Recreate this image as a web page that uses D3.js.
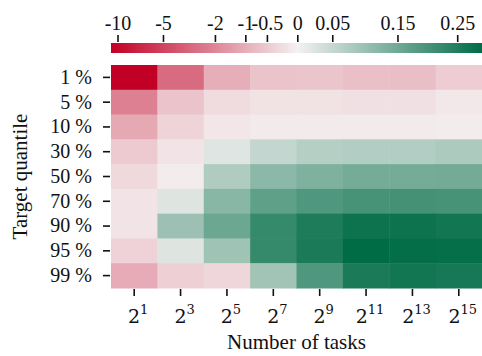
<!DOCTYPE html>
<html>
<head>
<meta charset="utf-8">
<script src="https://cdn.jsdelivr.net/npm/d3@7"></script>
<style>
  body { margin: 0; background: #fff; }
  .axis path { display: none; }
  .axis line { stroke: #111; stroke-width: 1.6; }
</style>
</head>
<body>
<div id="vis"></div>
<script>
var quantiles = ["1 %", "5 %", "10 %", "30 %", "50 %", "70 %", "90 %", "95 %", "99 %"];
var exponents = [1, 3, 5, 7, 9, 11, 13, 15];
var colorTicks = [-10, -5, -2, -1, -0.5, 0, 0.05, 0.15, 0.25];
var colorMin = -11, colorMax = 0.294;

// one row per quantile, one value per task count
var values = [
  [-11.0, -3.0, -1.0, -0.6, -0.58, -0.68, -0.70, -0.45],
  [-2.2, -0.6, -0.24, -0.17, -0.17, -0.19, -0.19, -0.10],
  [-1.1, -0.35, -0.12, -0.08, -0.08, -0.08, -0.08, -0.05],
  [-0.50, -0.15, 0.023, 0.053, 0.069, 0.072, 0.072, 0.078],
  [-0.28, -0.05, 0.075, 0.117, 0.131, 0.143, 0.143, 0.146],
  [-0.15, 0.024, 0.120, 0.170, 0.190, 0.200, 0.204, 0.200],
  [-0.15, 0.097, 0.155, 0.222, 0.254, 0.277, 0.277, 0.270],
  [-0.38, 0.024, 0.094, 0.222, 0.258, 0.294, 0.290, 0.287],
  [-1.05, -0.42, -0.32, 0.091, 0.190, 0.258, 0.270, 0.264]
];

var W = 482, H = 356;
var mLeft = 111, mRight = 482, mTop = 65, mBottom = 288;
var barTop = 43, barH = 10;
var serif = "'Liberation Serif', 'Times New Roman', 'DejaVu Serif', serif";

var svg = d3.select("#vis").append("svg")
  .attr("width", W)
  .attr("height", H);

var x = d3.scaleBand().domain(exponents).range([mLeft, mRight]).padding(0);
var y = d3.scaleBand().domain(quantiles).range([mTop, mBottom]).padding(0);

var cbScale = d3.scaleSymlog().constant(1)
  .domain([colorMin, 0, colorMax])
  .range([mLeft, 297.3, mRight]);

var color = d3.scaleSymlog().constant(1)
  .domain([colorMin, 0, colorMax])
  .range(["rgb(194,0,38)", "rgb(244,241,241)", "rgb(0,108,70)"])
  .interpolate(d3.interpolateRgb)
  .clamp(true);

// cells
var cells = [];
values.forEach(function(row, i) {
  row.forEach(function(v, j) {
    cells.push({q: quantiles[i], e: exponents[j], v: v});
  });
});

svg.append("g").selectAll("rect")
  .data(cells).enter()
  .append("rect")
  .attr("x", function(d) { return x(d.e); })
  .attr("y", function(d) { return y(d.q); })
  .attr("width", x.bandwidth() + 0.5)
  .attr("height", y.bandwidth() + 0.5)
  .attr("fill", function(d) { return color(d.v); });

// colorbar
var strips = d3.range(mLeft, mRight, 1);
svg.append("g").selectAll("rect")
  .data(strips).enter()
  .append("rect")
  .attr("x", function(d) { return d; })
  .attr("y", barTop)
  .attr("width", 1.5)
  .attr("height", barH)
  .attr("fill", function(d) { return color(cbScale.invert(d + 0.5)); });

var cbAxis = svg.append("g")
  .attr("class", "axis")
  .attr("transform", "translate(0," + (barTop - 1) + ")")
  .call(d3.axisTop(cbScale).tickValues(colorTicks).tickSize(7).tickPadding(5)
    .tickFormat(function(d) { return String(d); }));
cbAxis.selectAll("text")
  .style("font-family", serif)
  .style("font-size", "20px")
  .attr("fill", "#111");

// y axis
var yAxis = svg.append("g")
  .attr("class", "axis")
  .attr("transform", "translate(" + (mLeft - 1) + ",0)")
  .call(d3.axisLeft(y).tickSize(7).tickPadding(11));
yAxis.selectAll("text")
  .style("font-family", serif)
  .style("font-size", "20px")
  .attr("fill", "#111");

// x axis with powers of two
var xAxis = svg.append("g")
  .attr("class", "axis")
  .attr("transform", "translate(0," + (mBottom + 1) + ")")
  .call(d3.axisBottom(x).tickSize(7).tickPadding(8).tickFormat(""));

xAxis.selectAll(".tick").append("text")
  .attr("y", 34)
  .attr("x", 4)
  .attr("text-anchor", "middle")
  .attr("fill", "#111")
  .style("font-family", "'DejaVu Serif', serif")
  .each(function(d) {
    var t = d3.select(this);
    t.append("tspan").style("font-size", "19px").text("2");
    t.append("tspan").style("font-size", "13px").attr("dy", -9).text(d);
  });

svg.append("text")
  .attr("x", (mLeft + mRight) / 2)
  .attr("y", 349)
  .attr("text-anchor", "middle")
  .attr("fill", "#111")
  .style("font-family", serif)
  .style("font-size", "21px")
  .text("Number of tasks");

svg.append("text")
  .attr("transform", "translate(27," + ((mTop + mBottom) / 2) + ") rotate(-90)")
  .attr("text-anchor", "middle")
  .attr("fill", "#111")
  .style("font-family", serif)
  .style("font-size", "21px")
  .text("Target quantile");
</script>
</body>
</html>
